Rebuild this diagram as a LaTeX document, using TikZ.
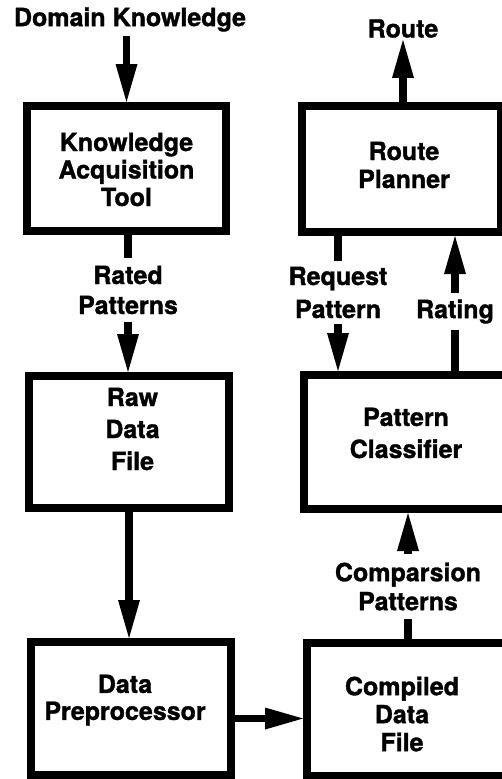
\documentclass[tikz,border=0pt]{standalone}
\usepackage{fontspec}
\setmainfont{TeX Gyre Heros}[BoldFeatures={FakeBold=1.3}]
\usetikzlibrary{arrows.meta}

\tikzset{
  box/.style={draw, rectangle, line width=8pt, inner sep=0pt},
  txt/.style={font=\bfseries\fontsize{25pt}{#1}\selectfont, align=center, inner sep=0pt},
  tag/.style={font=\bfseries\fontsize{25pt}{#1}\selectfont, align=center},
  flow/.style={line width=7.5pt, -{Triangle[length=38pt, width=22pt, line width=0pt]}},
  shaft/.style={line width=7.5pt}
}

\begin{document}
\begin{tikzpicture}[x=1pt, y=-1pt]
  \useasboundingbox (0,0) rectangle (502,779);
  \clip (0,0) rectangle (502,779);

  % processing boxes
  \node[box, minimum width=199pt, minimum height=125pt,
        label={[txt=27.5pt, yshift=-1pt]center:Knowledge\\Acquisition\\Tool}]
        (kat) at (126.5,168.5) {};
  \node[box, minimum width=199pt, minimum height=126pt,
        label={[txt=28pt, xshift=2.5pt, yshift=4pt]center:Route\\Planner}]
        (rp) at (401.5,169) {};
  \node[box, minimum width=200pt, minimum height=132pt,
        label={[txt=32pt, xshift=3.5pt, yshift=13pt]center:Raw\\Data\\File}]
        (rdf) at (129,442) {};
  \node[box, minimum width=204pt, minimum height=134pt,
        label={[txt=32pt, yshift=9pt]center:Pattern\\Classifier}]
        (pc) at (406,442) {};
  \node[box, minimum width=200pt, minimum height=133pt,
        label={[txt=27pt, xshift=-6pt, yshift=8.5pt]center:Data\\Preprocessor}]
        (dp) at (131,708.5) {};
  \node[box, minimum width=201pt, minimum height=133pt,
        label={[txt=28pt, xshift=-5.5pt, yshift=-4.5pt]center:Compiled\\Data\\File}]
        (cdf) at (407.5,709.5) {};

  % flow labels
  \node[tag=28pt, inner sep=4pt] (dk) at (130,19.5) {Domain Knowledge};
  \node[tag=28pt, inner sep=2pt] (route) at (403,28.5) {Route};
  \node[tag=30pt, inner sep=8pt] (rated) at (128,290) {Rated\\Patterns};
  \node[tag=33pt, inner sep=6pt] (req) at (338,292.5) {Request\\Pattern};
  \node[tag=28pt, inner sep=6pt] (rating) at (455,311.5) {Rating};
  \node[tag=29pt, inner sep=8pt] (comp) at (408,586.5) {Comparsion\\Patterns};

  % connectors
  \draw[flow] (dk.south -| kat.north) -- (kat.north);
  \draw[flow] (rp.north -| route) -- (route.south);
  \draw[shaft] (kat.south -| rated) -- (rated.north);
  \draw[flow] (rated.south) -- (rdf.north -| rated);
  \draw[shaft] (rp.south -| req) -- (req.north);
  \draw[flow] (req.south) -- (pc.north -| req);
  \draw[shaft] (pc.north -| rating) -- (rating.south);
  \draw[flow] (rating.north) -- (rp.south -| rating);
  \draw[flow] (rdf.south) -- (rdf.south |- dp.north);
  \draw[flow] ([yshift=-10pt]dp.east) -- ([yshift=-10pt]dp.east -| cdf.west);
  \draw[shaft] (cdf.north -| comp) -- (comp.south);
  \draw[flow] (comp.north) -- (pc.south -| comp);
\end{tikzpicture}
\end{document}
